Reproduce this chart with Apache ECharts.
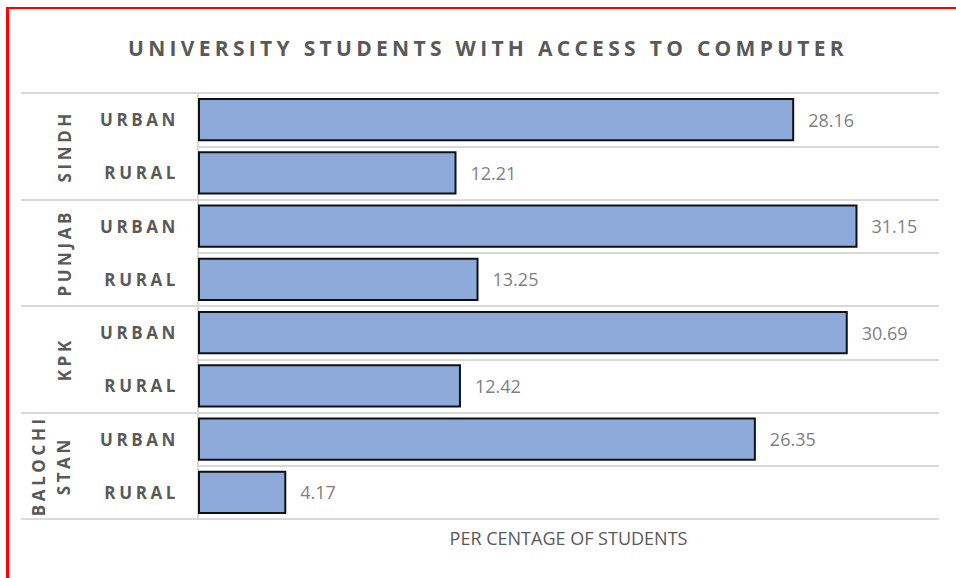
<!DOCTYPE html>
<html>
<head>
<meta charset="utf-8">
<script src="https://cdn.jsdelivr.net/npm/echarts@6/dist/echarts.min.js"></script>
<style>
  html, body { margin: 0; padding: 0; background: #ffffff; }
  #frame {
    position: absolute; left: 6px; top: 7px; width: 960px; height: 600px;
    border-left: 3px solid #ff0000; border-top: 2px solid #ff0000;
    box-sizing: border-box;
  }
  #chart { position: absolute; left: 0; top: 0; width: 956px; height: 578px; }
  /* spaced-out capitals for the bold labels */
  #chart text[style*="bold"] { letter-spacing: 3.6px; }
  #chart text[style*="bold"][style*="21px"] { letter-spacing: 4.3px; }
</style>
</head>
<body>
<div id="frame"></div>
<div id="chart"></div>
<script>
// Provinces, each split into urban / rural
const provinces = ['SINDH', 'PUNJAB', 'KPK', 'BALOCHI\nSTAN'];
const areas = ['URBAN', 'RURAL', 'URBAN', 'RURAL', 'URBAN', 'RURAL', 'URBAN', 'RURAL'];
// Percentage of university students with access to a computer
const shares = [28.16, 12.21, 31.15, 13.25, 30.69, 12.42, 26.35, 4.17];

const gridLine = '#d9d9d9';
const labelGray = '#595959';
const font = 'Open Sans';

const chart = echarts.init(document.getElementById('chart'), null, { renderer: 'svg' });

chart.setOption({
  backgroundColor: 'transparent',
  animation: false,
  title: {
    text: 'UNIVERSITY STUDENTS WITH ACCESS TO COMPUTER',
    left: 483,
    top: 32,
    textAlign: 'center',
    textStyle: { fontFamily: font, fontSize: 21, fontWeight: 'bold', color: labelGray }
  },
  grid: { left: 198, right: 17, top: 93, bottom: 59, containLabel: false },
  xAxis: {
    type: 'value',
    min: 0,
    max: 35,
    axisLabel: { show: false },
    axisTick: { show: false },
    axisLine: { show: false },
    splitLine: { show: false },
    name: 'PER CENTAGE OF STUDENTS',
    nameLocation: 'middle',
    nameGap: 10,
    nameTextStyle: { fontFamily: font, fontSize: 18, color: labelGray, verticalAlign: 'top' }
  },
  yAxis: [
    {
      type: 'category',
      data: areas,
      inverse: true,
      position: 'left',
      axisLine: { show: true, lineStyle: { color: gridLine, width: 2 } },
      axisTick: { show: false },
      splitLine: { show: true, interval: 0, lineStyle: { color: gridLine, width: 2 } },
      axisLabel: {
        interval: 0,
        margin: 19,
        fontFamily: font,
        fontSize: 17,
        fontWeight: 'bold',
        color: labelGray
      }
    },
    {
      type: 'category',
      data: provinces,
      inverse: true,
      position: 'left',
      offset: 0,
      axisLine: { show: false },
      axisTick: { show: true, interval: 0, length: 177, lineStyle: { color: gridLine, width: 2 } },
      splitLine: { show: false },
      axisLabel: {
        interval: 0,
        rotate: 90,
        margin: 147,
        align: 'center',
        verticalAlign: 'middle',
        fontFamily: font,
        fontSize: 17,
        fontWeight: 'bold',
        color: labelGray,
        lineHeight: 25,
        formatter: function (v) {
          return v.indexOf('\n') >= 0
            ? v.split('\n').map(function (s) { return '{two|' + s + '}'; }).join('\n')
            : '{one|' + v + '}';
        },
        rich: {
          one: { fontFamily: font, fontSize: 17, fontWeight: 'bold', color: labelGray, lineHeight: 25, padding: [26, 0, 0, 0] },
          two: { fontFamily: font, fontSize: 17, fontWeight: 'bold', color: labelGray, lineHeight: 25 }
        }
      }
    }
  ],
  series: [
    {
      type: 'bar',
      yAxisIndex: 0,
      data: shares,
      barCategoryGap: '19%',
      itemStyle: { color: '#8eaadb', borderColor: '#111111', borderWidth: 2 },
      label: {
        show: true,
        position: 'right',
        distance: 14,
        fontFamily: font,
        fontSize: 18,
        color: '#7f7f7f',
        formatter: function (p) { return p.value.toFixed(2); }
      }
    }
  ]
});
</script>
</body>
</html>
